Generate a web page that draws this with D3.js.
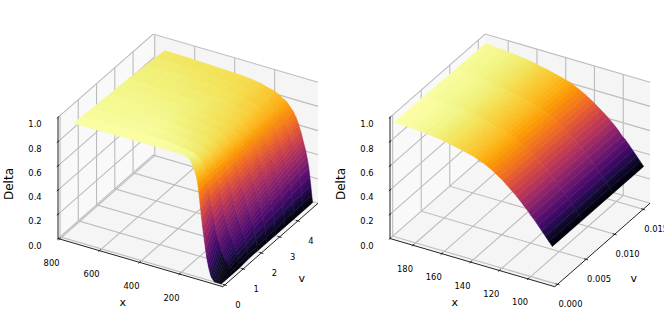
<!DOCTYPE html>
<html>
<head>
<meta charset="utf-8">
<script src="https://cdnjs.cloudflare.com/ajax/libs/d3/7.8.5/d3.min.js"></script>
<style>
  html, body { margin: 0; padding: 0; background: #fff; }
  svg { display: block; font-family: "DejaVu Sans", sans-serif; }
</style>
</head>
<body>
<div id="chart"></div>
<script>
// left panel: one row per x, one value per v
const xLeft = [1,5,10,15,20,25,30,35,40,45,50,55,60,65,70,75,80,85,90,95,100,105,110,115,120,125,130,135,140,145,150,160,170,180,190,220,240,260,300,360,430,520,620,740];
const vLeft = [0,0.5,1,1.5,2,2.5,3,3.5,4,4.5,5];
const deltaLeft = [
  [0,0,0,.01,.01,.01,.01,.01,.01,.01,.01],
  [0,.02,.03,.04,.04,.05,.05,.06,.06,.07,.07],
  [0,.05,.07,.08,.10,.11,.12,.13,.14,.14,.15],
  [0,.07,.10,.12,.14,.16,.17,.18,.20,.21,.22],
  [0,.09,.13,.16,.19,.21,.23,.24,.26,.28,.29],
  [0,.11,.15,.19,.22,.24,.27,.29,.31,.32,.34],
  [0,.12,.17,.21,.24,.27,.30,.32,.34,.36,.38],
  [0,.13,.19,.23,.27,.30,.33,.35,.38,.40,.42],
  [.01,.15,.21,.25,.29,.32,.35,.38,.41,.43,.45],
  [.02,.17,.23,.27,.31,.35,.38,.41,.43,.46,.48],
  [.03,.18,.25,.29,.34,.37,.40,.43,.46,.49,.51],
  [.05,.21,.27,.32,.36,.40,.43,.46,.49,.52,.54],
  [.08,.24,.30,.35,.39,.43,.46,.49,.52,.55,.57],
  [.11,.26,.33,.37,.42,.45,.48,.51,.54,.57,.59],
  [.15,.30,.36,.41,.45,.49,.52,.55,.57,.60,.62],
  [.19,.33,.39,.44,.48,.51,.54,.57,.60,.62,.64],
  [.25,.38,.43,.48,.51,.54,.57,.59,.62,.64,.66],
  [.31,.43,.48,.51,.55,.57,.60,.62,.64,.66,.68],
  [.37,.47,.51,.55,.57,.60,.62,.64,.66,.67,.69],
  [.43,.52,.56,.58,.61,.63,.65,.67,.68,.70,.71],
  [.50,.57,.60,.62,.64,.66,.67,.68,.70,.71,.72],
  [.575,.625,.645,.66,.675,.685,.695,.705,.715,.72,.73],
  [.65,.68,.69,.70,.71,.71,.72,.73,.73,.74,.74],
  [.72,.73,.735,.735,.74,.74,.745,.745,.745,.75,.75],
  [.78,.77,.77,.77,.77,.77,.76,.76,.76,.76,.76],
  [.82,.805,.80,.79,.79,.785,.78,.78,.775,.77,.77],
  [.85,.83,.82,.81,.81,.80,.80,.79,.79,.78,.78],
  [.87,.845,.83,.825,.815,.81,.805,.80,.795,.79,.785],
  [.89,.86,.85,.84,.83,.82,.81,.81,.80,.80,.79],
  [.91,.875,.86,.85,.84,.83,.82,.815,.805,.80,.795],
  [.925,.885,.87,.856,.845,.836,.828,.82,.813,.806,.80],
  [.95,.90,.885,.87,.86,.85,.84,.83,.825,.815,.81],
  [.965,.91,.895,.88,.87,.86,.855,.845,.835,.825,.82],
  [.97,.92,.905,.89,.88,.87,.86,.855,.845,.835,.83],
  [.975,.925,.91,.895,.885,.875,.87,.86,.855,.845,.84],
  [.975,.935,.92,.91,.90,.89,.88,.875,.865,.855,.85],
  [.975,.94,.925,.915,.905,.895,.89,.88,.87,.865,.86],
  [.975,.945,.93,.92,.91,.90,.895,.89,.88,.875,.87],
  [.975,.955,.94,.93,.92,.915,.905,.90,.895,.885,.88],
  [.975,.96,.95,.94,.93,.925,.92,.91,.90,.895,.89],
  [.975,.965,.955,.95,.94,.935,.925,.915,.91,.90,.895],
  [.972,.965,.96,.952,.945,.94,.93,.925,.915,.91,.90],
  [.97,.965,.958,.953,.948,.942,.935,.93,.922,.915,.905],
  [.97,.965,.96,.955,.95,.945,.94,.933,.926,.918,.91]
];

// right panel
const xRight = [85,87.5,90,92.5,95,97.5,100,102.5,105,107.5,110,112.5,115,117.5,120,122.5,125,127.5,130,132.5,135,137.5,140,142.5,145,147.5,150,152.5,155,157.5,160,162.5,165,167.5,170,172.5,175,177.5,180,182.5,185,187.5,190,192.5,195];
const vRight = [0,0.0053,0.0107,0.016];
const deltaRight = [
  [.30,.30,.30,.30],[.335,.335,.335,.335],[.37,.37,.37,.37],[.405,.405,.405,.405],
  [.44,.44,.44,.44],[.475,.475,.475,.475],[.505,.505,.505,.50],[.54,.54,.535,.535],
  [.57,.569,.568,.566],[.60,.599,.598,.593],[.63,.627,.623,.62],[.655,.651,.647,.643],
  [.68,.675,.67,.665],[.705,.699,.693,.688],[.73,.723,.717,.71],[.75,.743,.736,.729],
  [.77,.762,.755,.748],[.788,.78,.772,.765],[.805,.797,.789,.782],[.82,.812,.804,.796],
  [.833,.825,.817,.809],[.845,.837,.829,.821],[.855,.847,.838,.83],[.863,.855,.846,.838],
  [.87,.862,.853,.845],[.877,.869,.861,.853],[.884,.876,.868,.86],[.89,.883,.875,.868],
  [.896,.889,.881,.874],[.902,.895,.887,.88],[.908,.901,.894,.887],[.913,.906,.9,.893],
  [.918,.911,.905,.898],[.922,.916,.909,.903],[.926,.92,.913,.907],[.929,.923,.917,.911],
  [.932,.926,.92,.914],[.934,.928,.923,.917],[.936,.931,.925,.92],[.938,.933,.928,.923],
  [.94,.935,.93,.925],[.941,.936,.932,.927],[.942,.938,.934,.93],[.944,.94,.936,.932],
  [.945,.941,.937,.933]
];

const zTicks = [0,0.2,0.4,0.6,0.8,1];
const xTicksLeft = [200,400,600,800];
const vTicksLeft = [0,1,2,3,4];
const xTicksRight = [100,120,140,160,180];
const vTicksRight = [0,0.005,0.01,0.015];

const svg = d3.select("#chart").append("svg").attr("width", 664).attr("height", 332);
const defs = svg.append("defs");

// orthographic camera: elev 30, box about 4:4:3
const box = [1.1429, 1.1429, 0.83];
const elev = Math.PI / 6;
const az = Math.PI / 6;
const n = [-Math.cos(az) * Math.cos(elev), -Math.sin(az) * Math.cos(elev), Math.sin(elev)];
const u = [Math.sin(az), -Math.cos(az), 0];
const w = [n[1] * u[2] - n[2] * u[1], n[2] * u[0] - n[0] * u[2], n[0] * u[1] - n[1] * u[0]];
const dot = (p, q) => p[0] * q[0] + p[1] * q[1] + p[2] * q[2];

// a = along x axis (0 front, 1 left), b = along v axis (0 front, 1 right), c = up
const camera = (a, b, c) => {
  const p = [b * box[0], a * box[1], c * box[2]];
  return { x: dot(u, p), y: dot(w, p), d: -dot(n, p) };
};

const screenX = d3.scaleLinear()
  .domain([camera(1, 0, 0).x, camera(0, 1, 0).x]).range([58, 318]);
const screenY = d3.scaleLinear()
  .domain([camera(0, 0, 0).y, camera(1, 1, 1).y]).range([286.7, 34]);
const proj = (a, b, c) => {
  const p = camera(a, b, c);
  return [screenX(p.x), screenY(p.y)];
};
const line = d3.line();

function drawPanel(cfg) {
  const g = svg.append("g").attr("transform", "translate(" + cfg.dx + ",0)");
  const aScale = d3.scaleLinear().domain(cfg.xLim).range([0, 1]);
  const bScale = d3.scaleLinear().domain(cfg.vLim).range([0, 1]);
  const cScale = d3.scaleLinear().domain([0, 1]).range([0, 1]);

  // panes
  const panes = [
    { fill: "#f5f5f5", pts: [[0,0,0],[1,0,0],[1,1,0],[0,1,0]] },
    { fill: "#f9f9f9", pts: [[1,0,0],[1,1,0],[1,1,1],[1,0,1]] },
    { fill: "#f5f5f5", pts: [[0,1,0],[1,1,0],[1,1,1],[0,1,1]] }
  ];
  g.selectAll(".pane").data(panes).enter().append("path")
    .attr("class", "pane")
    .attr("fill", (d) => d.fill)
    .attr("d", (d) => line(d.pts.map((p) => proj(p[0], p[1], p[2]))) + "Z");

  // grid
  const grid = [];
  cfg.xTicks.forEach((t) => {
    const a = aScale(t);
    grid.push([[a,0,0],[a,1,0],[a,1,1]]);
  });
  cfg.vTicks.forEach((t) => {
    const b = bScale(t);
    grid.push([[0,b,0],[1,b,0],[1,b,1]]);
  });
  zTicks.forEach((t) => {
    const c = cScale(t);
    grid.push([[1,0,c],[1,1,c],[0,1,c]]);
  });
  g.selectAll(".grid").data(grid).enter().append("path")
    .attr("class", "grid")
    .attr("fill", "none")
    .attr("stroke", "#bcbcbc")
    .attr("stroke-width", 1.1)
    .attr("d", (d) => line(d.map((p) => proj(p[0], p[1], p[2]))));

  // axis lines
  const axes = [[[1,0,0],[0,0,0]], [[0,0,0],[0,1,0]], [[1,0,0],[1,0,1]]];
  g.selectAll(".axis").data(axes).enter().append("path")
    .attr("class", "axis")
    .attr("stroke", "#222")
    .attr("stroke-width", 1)
    .attr("d", (d) => line(d.map((p) => proj(p[0], p[1], p[2]))));

  // tick marks + labels
  const marks = [];
  const labels = [];
  cfg.xTicks.forEach((t) => {
    const a = aScale(t);
    marks.push([[a,-0.012,0],[a,0.012,0]]);
    const p = proj(a, 0, 0);
    labels.push({ text: String(t), x: p[0] - 8, y: p[1] + 23.5 });
  });
  cfg.vTicks.forEach((t) => {
    const b = bScale(t);
    marks.push([[-0.012,b,0],[0.012,b,0]]);
    const p = proj(0, b, 0);
    labels.push({ text: cfg.vFormat(t), x: p[0] + 13, y: p[1] + 20 });
  });
  zTicks.forEach((t) => {
    const c = cScale(t);
    marks.push([[1,-0.012,c],[1,0.012,c]]);
    const p = proj(1, 0, c);
    labels.push({ text: d3.format(".1f")(t), x: p[0] - 23, y: p[1] + 7 });
  });
  g.selectAll(".mark").data(marks).enter().append("path")
    .attr("class", "mark")
    .attr("stroke", "#000")
    .attr("stroke-width", 0.8)
    .attr("d", (d) => line(d.map((p) => proj(p[0], p[1], p[2]))));
  g.selectAll(".tick-label").data(labels).enter().append("text")
    .attr("class", "tick-label")
    .attr("x", (d) => d.x)
    .attr("y", (d) => d.y)
    .attr("text-anchor", "middle")
    .attr("dominant-baseline", "central")
    .attr("font-size", 8.4)
    .attr("fill", "#000")
    .text((d) => d.text);

  // surface, painted far to near
  const flat = cfg.delta.flat();
  const color = d3.scaleSequential(d3.interpolateInferno).domain(d3.extent(flat));
  const cells = [];
  for (let i = 0; i < cfg.x.length - 1; i++) {
    for (let j = 0; j < cfg.v.length - 1; j++) {
      const corners = [[i,j],[i + 1,j],[i + 1,j + 1],[i,j + 1]]
        .map((k) => [aScale(cfg.x[k[0]]), bScale(cfg.v[k[1]]), cScale(cfg.delta[k[0]][k[1]])]);
      const pts = corners.map((p) => proj(p[0], p[1], p[2]));
      // shade across the cell, each edge keeps its own colour
      const from = [(pts[0][0] + pts[3][0]) / 2, (pts[0][1] + pts[3][1]) / 2];
      const to = [(pts[1][0] + pts[2][0]) / 2, (pts[1][1] + pts[2][1]) / 2];
      const ex = pts[3][0] - pts[0][0];
      const ey = pts[3][1] - pts[0][1];
      const len = Math.hypot(ex, ey);
      const nx = -ey / len;
      const ny = ex / len;
      const along = (to[0] - from[0]) * nx + (to[1] - from[1]) * ny;
      cells.push({
        id: "c" + cfg.dx + "_" + i + "_" + j,
        pts: pts,
        from: from,
        to: [from[0] + along * nx, from[1] + along * ny],
        low: color((corners[0][2] + corners[3][2]) / 2),
        high: color((corners[1][2] + corners[2][2]) / 2),
        depth: d3.mean(corners, (p) => camera(p[0], p[1], p[2]).d)
      });
    }
  }
  cells.sort((p, q) => q.depth - p.depth);

  const grads = defs.selectAll(".g" + cfg.dx).data(cells).enter().append("linearGradient")
    .attr("class", "g" + cfg.dx)
    .attr("id", (d) => d.id)
    .attr("gradientUnits", "userSpaceOnUse")
    .attr("x1", (d) => d.from[0])
    .attr("y1", (d) => d.from[1])
    .attr("x2", (d) => d.to[0])
    .attr("y2", (d) => d.to[1]);
  grads.append("stop").attr("offset", 0).attr("stop-color", (d) => d.low);
  grads.append("stop").attr("offset", 1).attr("stop-color", (d) => d.high);

  g.selectAll(".cell").data(cells).enter().append("path")
    .attr("class", "cell")
    .attr("fill", (d) => "url(#" + d.id + ")")
    .attr("stroke", (d) => "url(#" + d.id + ")")
    .attr("stroke-width", 0.5)
    .attr("stroke-linejoin", "round")
    .attr("d", (d) => line(d.pts) + "Z");

  // axis titles
  g.append("text").attr("x", 122.7).attr("y", 302).attr("text-anchor", "middle")
    .attr("dominant-baseline", "central").attr("font-size", 11).text("x");
  g.append("text").attr("x", 301.7).attr("y", 278).attr("text-anchor", "middle")
    .attr("dominant-baseline", "central").attr("font-size", 11).text("v");
  g.append("text").attr("transform", "translate(8.5,184) rotate(-90)").attr("text-anchor", "middle")
    .attr("dominant-baseline", "central").attr("font-size", 12).text("Delta");
}

drawPanel({
  dx: 0, x: xLeft, v: vLeft, delta: deltaLeft,
  xLim: [-17, 808], vLim: [-0.11, 5.1],
  xTicks: xTicksLeft, vTicks: vTicksLeft, vFormat: (t) => String(t)
});
drawPanel({
  dx: 332, x: xRight, v: vRight, delta: deltaRight,
  xLim: [81.4, 196], vLim: [-0.00047, 0.0162],
  xTicks: xTicksRight, vTicks: vTicksRight, vFormat: d3.format(".3f")
});
</script>
</body>
</html>
